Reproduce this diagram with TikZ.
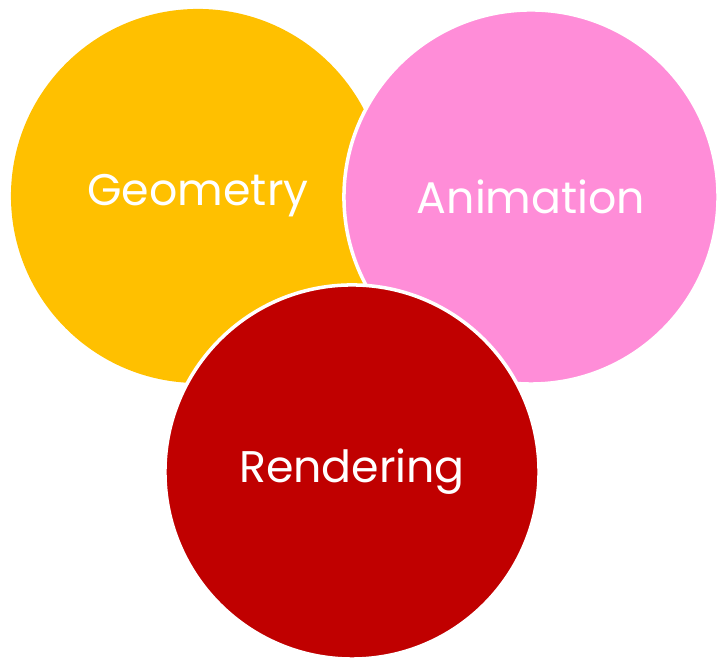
\documentclass[tikz,border=0pt]{standalone}
\usepackage{fontspec}
\setmainfont{Poppins}

\definecolor{geomyellow}{HTML}{FFC000}
\definecolor{animpink}{HTML}{FF8DD8}
\definecolor{rendred}{HTML}{C00000}

\begin{document}
\begin{tikzpicture}[
    x=0.025cm, y=0.025cm,
    bubble/.style={
        circle,
        minimum size=9.35cm,
        inner sep=0pt,
        draw=white,
        line width=2.5pt,
        text=white,
        font=\fontsize{31.5}{36}\selectfont
    },
    geo/.style={
        bubble,
        fill=geomyellow
    },
    ani/.style={
        bubble,
        fill=animpink
    },
    ren/.style={
        bubble,
        fill=rendred
    }
]

    % Canvas
    \useasboundingbox (0,0) rectangle (718,661);

    % Geometry (bottom layer)
    \node[geo, draw=none] (geom) at (198,465) {Geometry};

    % Animation
    \node[ani] (anim) at (531,464) {Animation};

    % Rendering (on top)
    \node[ren] (rend) at (352,189) {Rendering};

\end{tikzpicture}
\end{document}
